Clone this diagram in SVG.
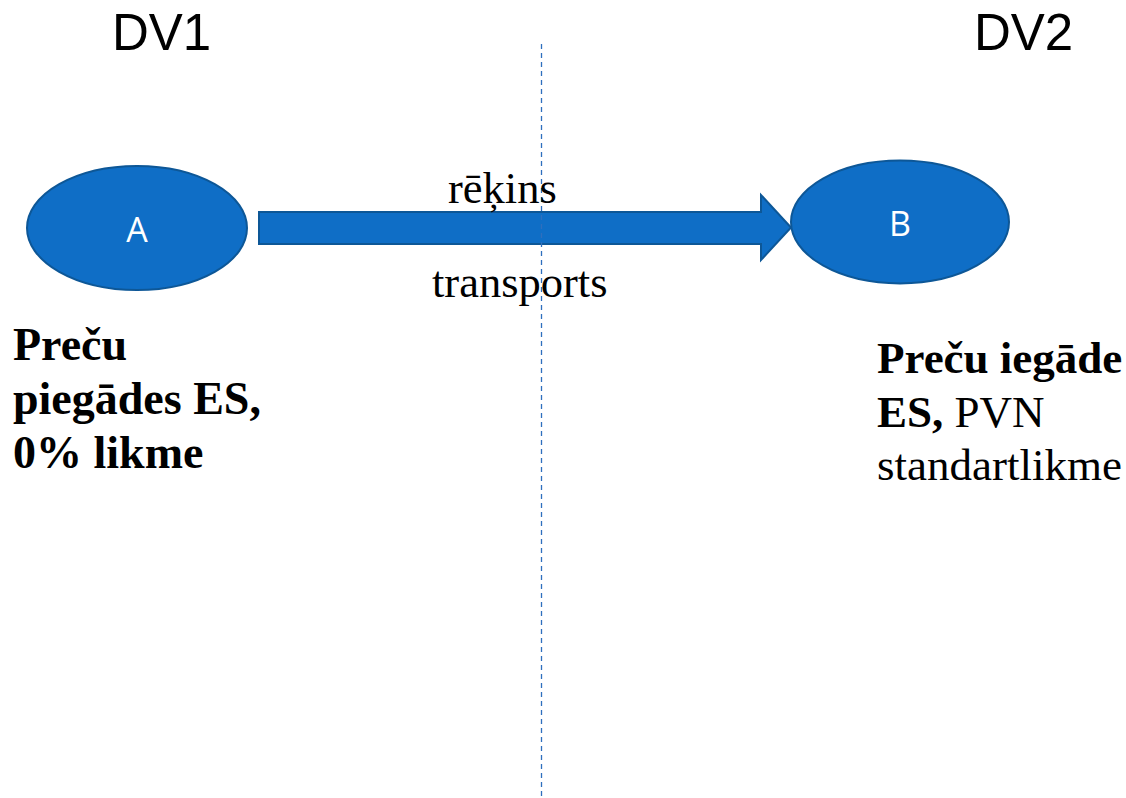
<svg xmlns="http://www.w3.org/2000/svg" width="1126" height="798" viewBox="0 0 1126 798">
<style>
.node{fill:#0F6EC6;stroke:#0D5797;stroke-width:2}
.nlab{font-family:"Open Sans","Liberation Sans",Arial,sans-serif;font-size:34px;fill:#FFFFFF;text-anchor:middle}
.hdr{font-family:"Liberation Sans",Arial,sans-serif;font-size:51px;fill:#000000}
.tm{font-family:"Liberation Serif","Times New Roman",serif;font-size:44.5px;fill:#000000}
.lt{font-size:46px}
.rt{font-size:45px}
.b{font-weight:bold}
</style>
<rect width="1126" height="798" fill="#FFFFFF"/>
<text class="hdr" x="112" y="50">DV1</text>
<text class="hdr" x="974" y="50">DV2</text>
<g id="connectors">
<path d="M259,212 L761,212 L761,195 L791,227.5 L761,260 L761,244 L259,244 Z" class="node"/>
<line x1="541.5" y1="44" x2="541.5" y2="798" stroke="#2E6FBE" stroke-width="1.3" stroke-dasharray="5,4"/>
</g>
<g id="A">
<ellipse cx="137" cy="228" rx="110" ry="62" class="node"/>
<text class="nlab" x="137" y="242">A</text>
</g>
<g id="B">
<ellipse cx="900" cy="222" rx="109" ry="61.5" class="node"/>
<text class="nlab" x="900" y="236">B</text>
</g>
<text class="tm" x="448" y="203">rēķins</text>
<text class="tm" x="432" y="297">transports</text>
<g id="leftText">
<text class="tm lt b" x="13" y="360">Preču</text>
<text class="tm lt b" x="13" y="414">piegādes ES,</text>
<text class="tm lt b" x="13" y="468">0% likme</text>
</g>
<g id="rightText">
<text class="tm rt b" x="877" y="373">Preču iegāde</text>
<text class="tm rt" x="877" y="427"><tspan class="b">ES,</tspan> PVN</text>
<text class="tm rt" x="877" y="480">standartlikme</text>
</g>
</svg>
